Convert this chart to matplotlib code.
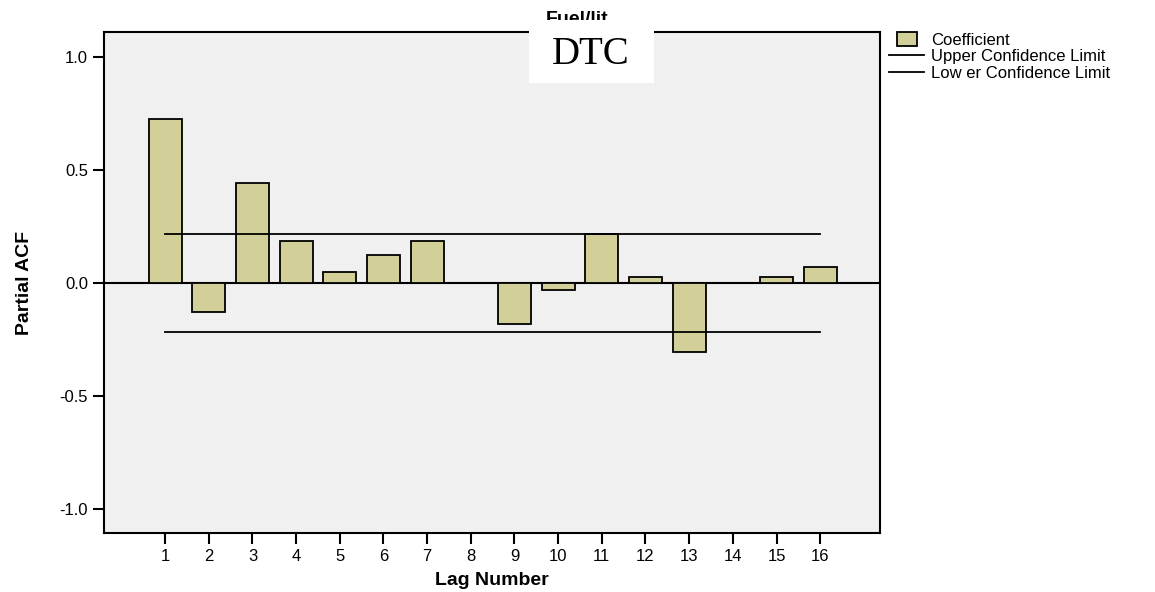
import matplotlib.pyplot as plt
from matplotlib.patches import Rectangle
from matplotlib.legend_handler import HandlerPatch

lags = list(range(1, 17))
pacf = [0.724, -0.128, 0.444, 0.187, 0.049, 0.124, 0.187, 0.0,
        -0.183, -0.031, 0.217, 0.028, -0.307, 0.0, 0.025, 0.070]
upper_limit = 0.218
lower_limit = -0.218
y_ticks = [-1.0, -0.5, 0.0, 0.5, 1.0]

plt.rcParams['font.family'] = ['Liberation Sans', 'DejaVu Sans']


def small_box(legend, orig_handle, xdescent, ydescent, width, height, fontsize):
    # SPSS draws a little square, not a full-width patch
    return Rectangle((-xdescent + width * 0.22, -ydescent - 1), width * 0.57,
                     height + 2)


fig = plt.figure(figsize=(11.55, 5.92), dpi=100)
ax = fig.add_axes([104 / 1155, 1 - 533 / 592, 776 / 1155, 501 / 592])
ax.set_facecolor('#f0f0f0')

bars = ax.bar(lags, pacf, width=0.76, color='#d3cf98', edgecolor='black',
              linewidth=1.3, zorder=3, label='Coefficient')
ax.axhline(0, color='black', linewidth=1.5, zorder=2)
up, = ax.plot([lags[0], lags[-1]], [upper_limit, upper_limit], color='black',
              linewidth=1.3, zorder=4, label='Upper Confidence Limit')
lo, = ax.plot([lags[0], lags[-1]], [lower_limit, lower_limit], color='black',
              linewidth=1.3, zorder=4, label='Low er Confidence Limit')

ax.set_xlim(-0.4, 17.37)
ax.set_ylim(-1.106, 1.11)
ax.set_xticks(lags)
ax.set_xticklabels([str(l) for l in lags])
ax.set_yticks(y_ticks)
ax.set_yticklabels(['%.1f' % v for v in y_ticks])
ax.tick_params(axis='both', direction='out', length=8, width=1.5,
               labelsize=12, colors='black')
for s in ax.spines.values():
    s.set_linewidth(1.5)

ax.set_xlabel('Lag Number', fontsize=14, fontweight='bold', labelpad=6)
ax.set_ylabel('Partial ACF', fontsize=14, fontweight='bold')
ax.yaxis.set_label_coords(-0.092, 0.5)

bar_handle = bars.patches[0]
leg = ax.legend([bar_handle, up, lo],
                ['Coefficient', 'Upper Confidence Limit', 'Low er Confidence Limit'],
                loc='upper left', bbox_to_anchor=(1.003, 1.012), frameon=False,
                fontsize=12, handlelength=2.1, handletextpad=0.45,
                labelspacing=0.1, borderaxespad=0.0, handleheight=0.7,
                handler_map={bar_handle: HandlerPatch(patch_func=small_box)})

fig.text(577 / 1155, 1 - 19 / 592, 'Fuel/lit', fontsize=14,
         fontweight='bold', ha='center', va='center')
fig.patches.append(Rectangle((529 / 1155, 1 - 83 / 592), 125 / 1155,
                             63 / 592, transform=fig.transFigure,
                             facecolor='white', edgecolor='none', zorder=5))
fig.text(591 / 1155, 1 - 55 / 592, 'DTC', fontsize=28, ha='center',
         va='center', family=['Liberation Serif', 'DejaVu Serif'], zorder=6)

fig.savefig('out.png', dpi=100)
